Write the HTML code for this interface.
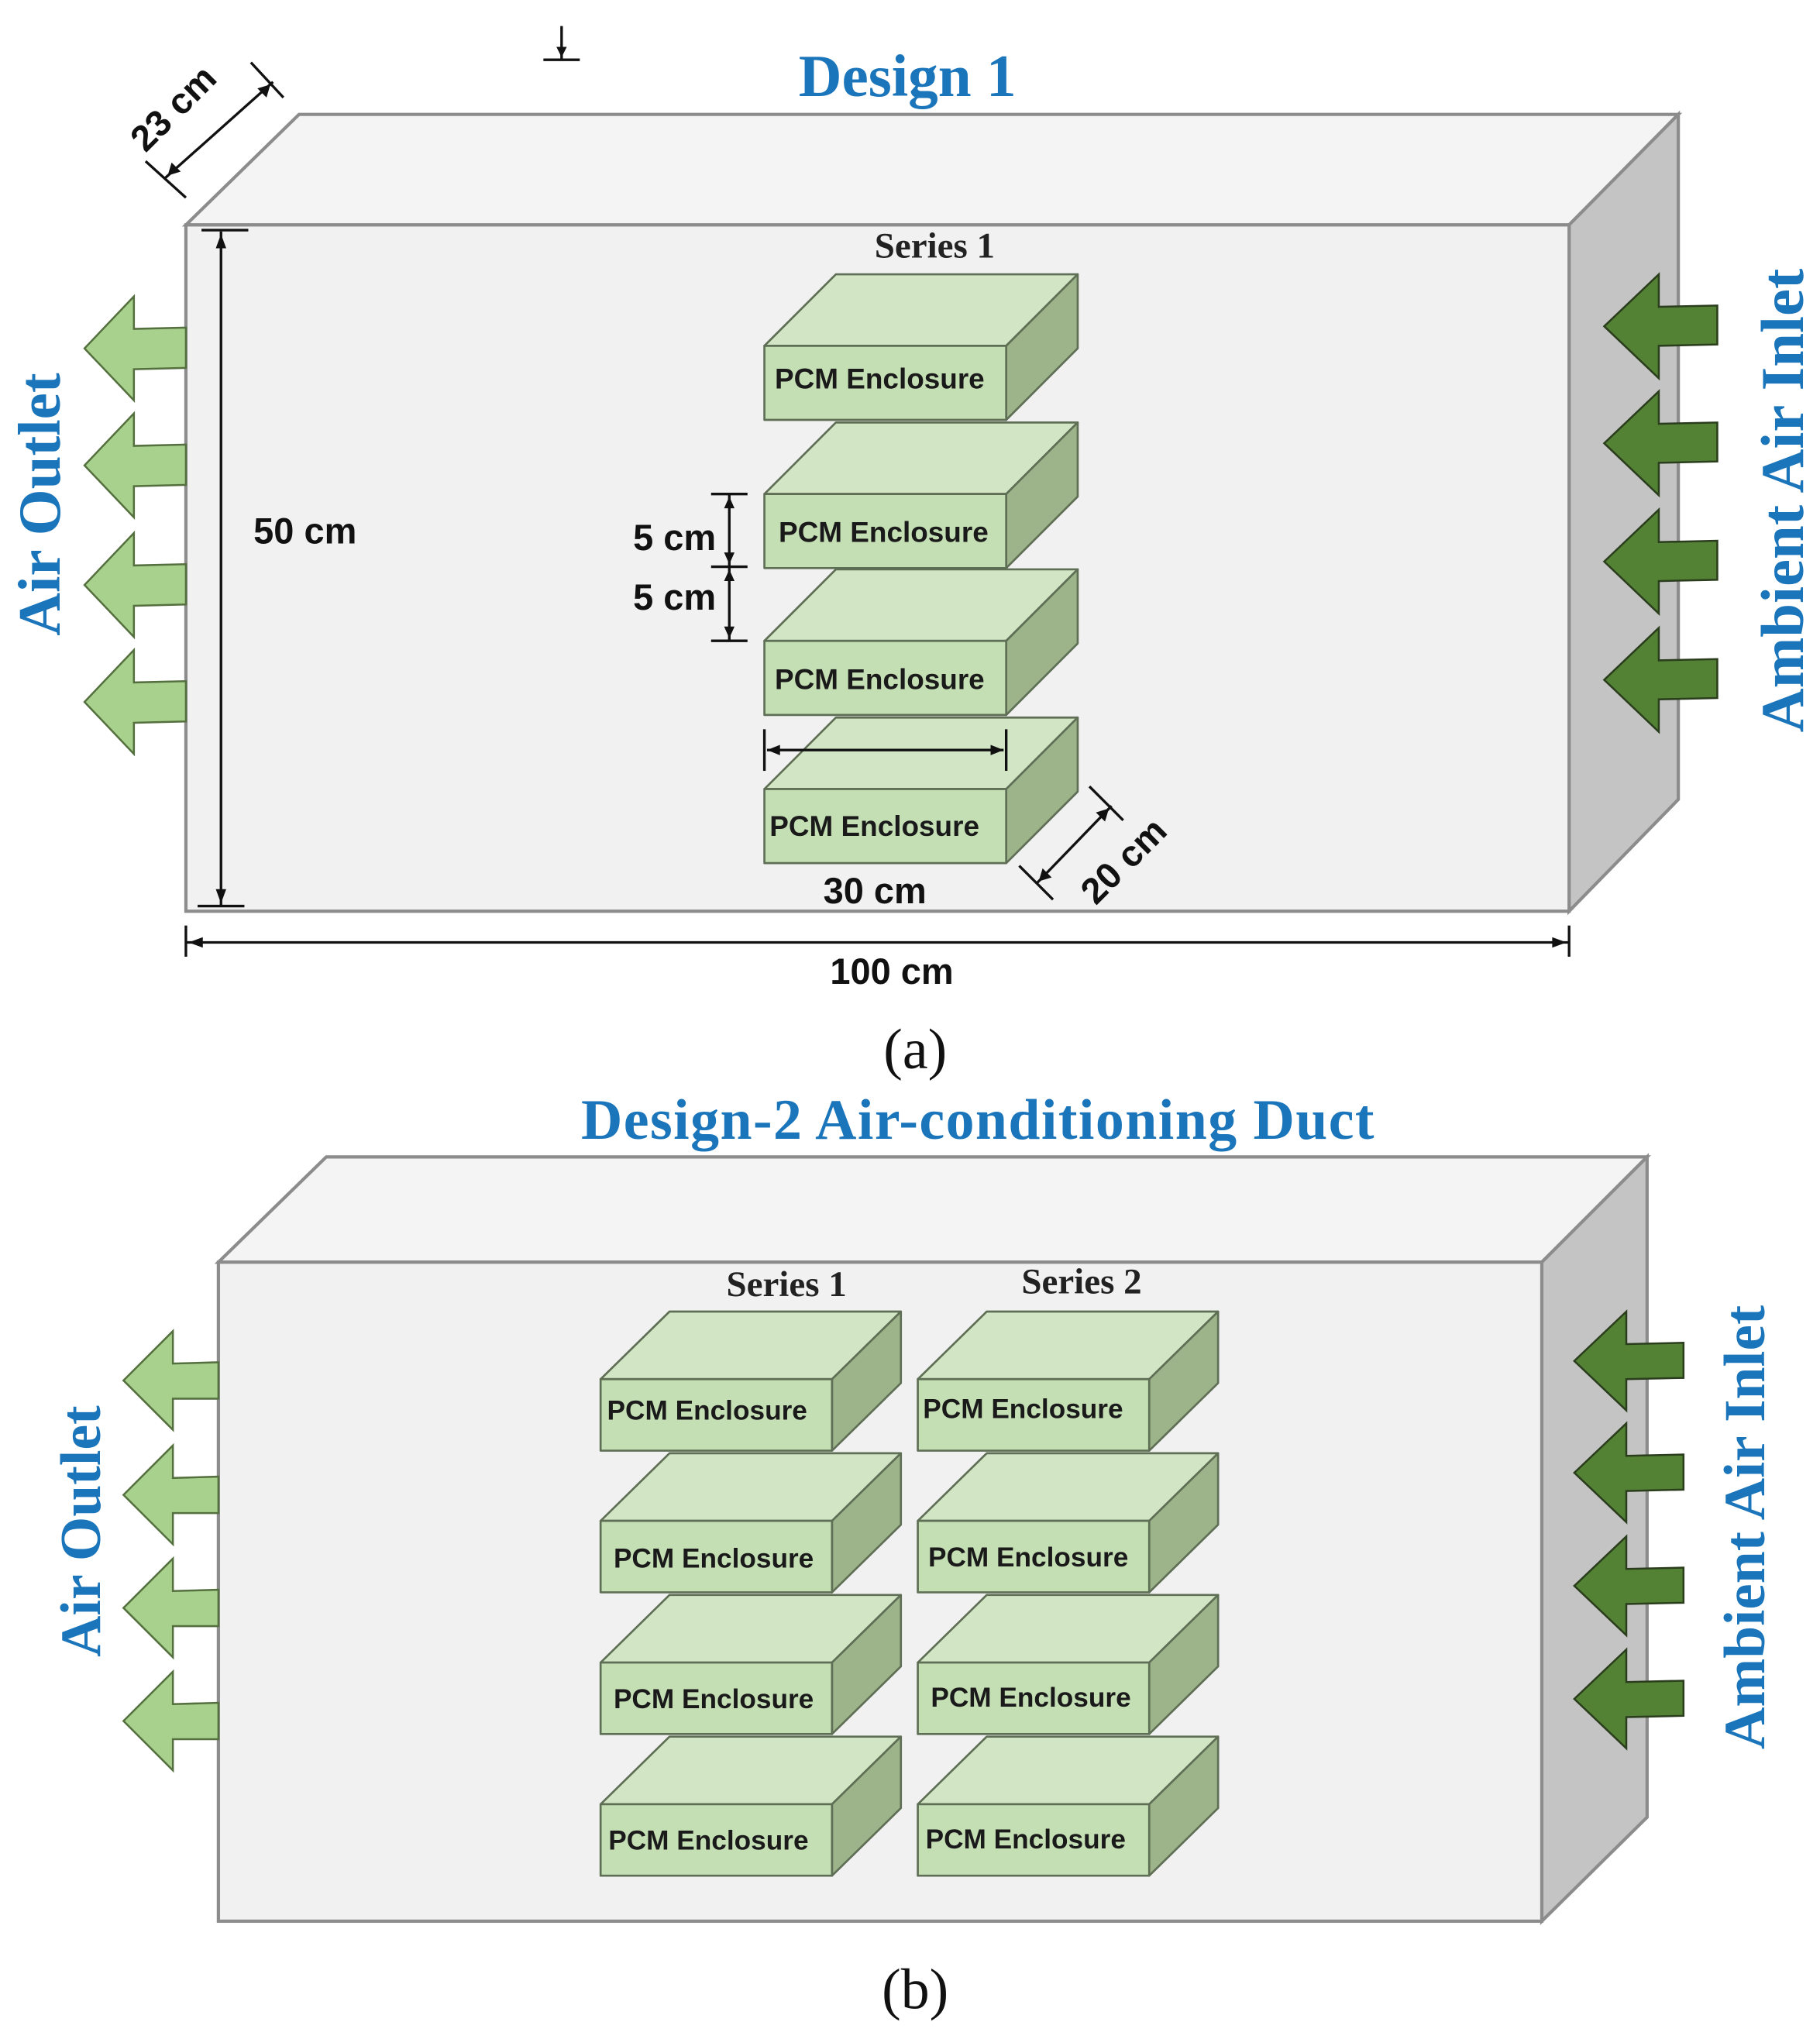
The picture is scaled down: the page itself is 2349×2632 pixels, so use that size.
<!DOCTYPE html>
<html><head><meta charset="utf-8"><style>html,body{margin:0;padding:0;background:#fff}svg{display:block}</style></head>
<body>
<svg width="2349" height="2632" viewBox="0 0 1400 1568.6" xmlns="http://www.w3.org/2000/svg">
<defs>
<g id="b1" stroke="#5f6f55" stroke-width="1.6" stroke-linejoin="round">
<polygon points="0,0 55,-55 241,-55 186,0" fill="#d2e5c4"/>
<polygon points="186,0 241,-55 241,2 186,57" fill="#9db48b"/>
<rect x="0" y="0" width="186" height="57" fill="#c5dfb4"/>
</g>
<g id="b2" stroke="#5f6f55" stroke-width="1.6" stroke-linejoin="round">
<polygon points="0,0 53,-52 231,-52 178,0" fill="#d2e5c4"/>
<polygon points="178,0 231,-52 231,3 178,55" fill="#9db48b"/>
<rect x="0" y="0" width="178" height="55" fill="#c5dfb4"/>
</g>
<g id="ao" fill="#a9d18e" stroke="#55703f" stroke-width="1.5" stroke-linejoin="miter">
<polygon points="0,0 38,-40 38,-15 78,-16 78,15 38,16 38,40"/>
</g>
<g id="ai" fill="#548235" stroke="#2a3d1c" stroke-width="1.5">
<polygon points="0,0 42,-40 42,-15 87,-16 87,14 42,15 42,40"/>
</g>
<g id="ao2" fill="#a9d18e" stroke="#55703f" stroke-width="1.5">
<polygon points="0,0 38,-38 38,-13 73,-14 73,14 38,14 38,38"/>
</g>
<g id="ai2" fill="#548235" stroke="#2a3d1c" stroke-width="1.5">
<polygon points="0,0 40,-38 40,-13 84,-14 84,13 40,14 40,38"/>
</g>
</defs>

<g stroke="#8c8c8c" stroke-width="2.5">
<polygon points="143,173 230,88 1291,88 1207,173" fill="#f4f4f4"/>
<polygon points="1207,173 1291,88 1291,615 1207,701" fill="#c4c4c4"/>
<rect x="143" y="173" width="1064" height="528" fill="#f1f1f1"/>
</g>

<use href="#ao" x="65" y="268"/>
<use href="#ao" x="65" y="358"/>
<use href="#ao" x="65" y="450"/>
<use href="#ao" x="65" y="540"/>
<use href="#ai" x="1234" y="251"/>
<use href="#ai" x="1234" y="341"/>
<use href="#ai" x="1234" y="432"/>
<use href="#ai" x="1234" y="523"/>

<use href="#b1" x="588" y="266"/>
<use href="#b1" x="588" y="380"/>
<use href="#b1" x="588" y="493"/>
<use href="#b1" x="588" y="607"/>
<g font-family="Liberation Sans, sans-serif" font-weight="bold" font-size="22" fill="#1a1a1a">
<text x="596" y="299">PCM Enclosure</text>
<text x="599" y="417">PCM Enclosure</text>
<text x="596" y="530">PCM Enclosure</text>
<text x="592" y="643">PCM Enclosure</text>
</g>
<text x="719" y="198" font-family="Liberation Serif, serif" font-weight="bold" font-size="28" text-anchor="middle" fill="#222">Series 1</text>

<g stroke="#111" stroke-width="2" fill="none">
<line x1="170" y1="178" x2="170" y2="697"/>
<line x1="155" y1="177" x2="191" y2="177"/>
<line x1="152" y1="697" x2="188" y2="697"/>
<line x1="143" y1="725" x2="1207" y2="725"/>
<line x1="143" y1="712" x2="143" y2="736"/>
<line x1="1207" y1="712" x2="1207" y2="736"/>
<line x1="561" y1="380" x2="561" y2="493"/>
<line x1="547" y1="380" x2="575" y2="380"/>
<line x1="547" y1="436" x2="575" y2="436"/>
<line x1="547" y1="493" x2="575" y2="493"/>
<line x1="590" y1="577" x2="772" y2="577"/>
<line x1="588" y1="561" x2="588" y2="593"/>
<line x1="774" y1="561" x2="774" y2="593"/>
<line x1="797" y1="680" x2="855" y2="620"/>
<line x1="784" y1="666" x2="810" y2="692"/>
<line x1="838" y1="605" x2="864" y2="631"/>
<line x1="127" y1="137" x2="210" y2="63"/>
<line x1="112" y1="124" x2="143" y2="152"/>
<line x1="193" y1="48" x2="218" y2="75"/>
<line x1="432" y1="20" x2="432" y2="46"/>
<line x1="418" y1="46" x2="446" y2="46"/>
</g>
<g fill="#111">
<polygon points="170,180 166,191 174,191"/>
<polygon points="170,695 166,684 174,684"/>
<polygon points="145,725 156,721 156,729"/>
<polygon points="1205,725 1194,721 1194,729"/>
<polygon points="561,382 557,391 565,391"/><polygon points="561,434 557,425 565,425"/>
<polygon points="561,438 557,447 565,447"/><polygon points="561,491 557,482 565,482"/>
<polygon points="590,577 600,573 600,581"/><polygon points="772,577 762,573 762,581"/>
<polygon points="799,678 802,668 809,675"/><polygon points="853,622 850,632 843,625"/>
<polygon points="129,135 132,125 139,132"/><polygon points="208,65 205,75 198,68"/>
<polygon points="432,44 428,36 436,36"/>
</g>
<g font-family="Liberation Sans, sans-serif" font-weight="bold" font-size="28" fill="#111">
<text x="195" y="418">50 cm</text>
<text x="487" y="423">5 cm</text>
<text x="487" y="469">5 cm</text>
<text x="673" y="695" text-anchor="middle">30 cm</text>
<text x="686" y="757" text-anchor="middle">100 cm</text>
<text transform="translate(843,697) rotate(-45)">20 cm</text>
<text transform="translate(112,118) rotate(-45)">23 cm</text>
</g>

<g font-family="Liberation Serif, serif" font-weight="bold" fill="#1b75bb">
<text x="698" y="74" font-size="46" text-anchor="middle">Design 1</text>
<text transform="translate(46,388) rotate(-90)" font-size="46" text-anchor="middle">Air Outlet</text>
<text transform="translate(1387,385) rotate(-90)" font-size="47" text-anchor="middle">Ambient Air Inlet</text>
<text x="752" y="876" font-size="44" text-anchor="middle" textLength="610" lengthAdjust="spacing">Design-2 Air-conditioning Duct</text>
<text transform="translate(77,1178) rotate(-90)" font-size="44" text-anchor="middle">Air Outlet</text>
<text transform="translate(1357,1175) rotate(-90)" font-size="45" text-anchor="middle">Ambient Air Inlet</text>
</g>
<g font-family="Liberation Serif, serif" font-size="44" fill="#111" text-anchor="middle">
<text x="704" y="822">(a)</text>
<text x="704" y="1545">(b)</text>
</g>

<g stroke="#8c8c8c" stroke-width="2.5">
<polygon points="168,971 251,890 1267,890 1186,971" fill="#f4f4f4"/>
<polygon points="1186,971 1267,890 1267,1398 1186,1478" fill="#c4c4c4"/>
<rect x="168" y="971" width="1018" height="507" fill="#f1f1f1"/>
</g>
<use href="#ao2" x="95" y="1062"/>
<use href="#ao2" x="95" y="1150"/>
<use href="#ao2" x="95" y="1237"/>
<use href="#ao2" x="95" y="1324"/>
<use href="#ai2" x="1211" y="1047"/>
<use href="#ai2" x="1211" y="1133"/>
<use href="#ai2" x="1211" y="1220"/>
<use href="#ai2" x="1211" y="1307"/>

<use href="#b2" x="462" y="1061"/>
<use href="#b2" x="462" y="1170"/>
<use href="#b2" x="462" y="1279"/>
<use href="#b2" x="462" y="1388"/>
<use href="#b2" x="706" y="1061"/>
<use href="#b2" x="706" y="1170"/>
<use href="#b2" x="706" y="1279"/>
<use href="#b2" x="706" y="1388"/>
<g font-family="Liberation Sans, sans-serif" font-weight="bold" font-size="21" fill="#1a1a1a">
<text x="467" y="1092">PCM Enclosure</text>
<text x="472" y="1206">PCM Enclosure</text>
<text x="472" y="1314">PCM Enclosure</text>
<text x="468" y="1423">PCM Enclosure</text>
<text x="710" y="1091">PCM Enclosure</text>
<text x="714" y="1205">PCM Enclosure</text>
<text x="716" y="1313">PCM Enclosure</text>
<text x="712" y="1422">PCM Enclosure</text>
</g>
<g font-family="Liberation Serif, serif" font-weight="bold" font-size="28" fill="#222" text-anchor="middle">
<text x="605" y="997">Series 1</text>
<text x="832" y="995">Series 2</text>
</g>
</svg>
</body></html>
